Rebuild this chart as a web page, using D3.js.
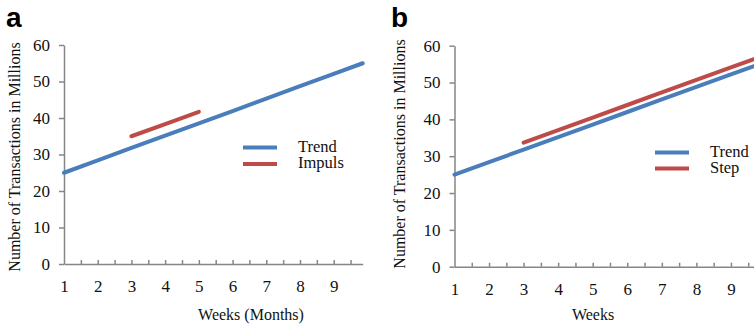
<!DOCTYPE html>
<html>
<head>
	<meta charset="utf-8">
	<style type="text/css">
		body{
			margin: 0;
			background-color: white;
		}
		.axis path, .axis line{
			stroke: #868686;
			stroke-width: 1.5px;
		}
	</style>
</head>
<body>
	<svg id="container" width="754" height="329"></svg>
</body>
<script src="https://cdn.jsdelivr.net/npm/d3@7"></script>
<script type="text/javascript">
	// data
	let yTicks = [0, 10, 20, 30, 40, 50, 60]
	let xLabels = [1, 2, 3, 4, 5, 6, 7, 8, 9]
	let xMinor = [1.5, 2, 2.5, 3, 3.5, 4, 4.5, 5, 5.5, 6, 6.5, 7, 7.5, 8, 8.5, 9, 9.5]

	let trendWeeksA = [1, 2, 3, 4, 5, 6, 7, 8, 9, 9.86]
	let trendA = [25, 28.4, 31.8, 35.2, 38.5, 41.9, 45.3, 48.7, 52.1, 55]
	let impulsWeeks = [3, 4, 5]
	let impuls = [35, 38.3, 41.7]

	let trendWeeksB = [1, 2, 3, 4, 5, 6, 7, 8, 9, 10]
	let trendB = [25, 28.4, 31.8, 35.2, 38.6, 42.0, 45.4, 48.8, 52.2, 55.6]
	let stepWeeks = [3, 4, 5, 6, 7, 8, 9, 10]
	let step = [33.7, 37.1, 40.5, 43.9, 47.3, 50.7, 54.1, 57.5]

	let blue = "#4a7ebb"
	let red = "#be4b48"
	let serif = "'Liberation Serif', 'Times New Roman', serif"

	let container = d3.select("#container")

	function panel(opt){
		let g = container.append("g")
		let x = d3.scaleLinear().domain(opt.xDomain).range(opt.xRange)
		let y = d3.scaleLinear().domain([0, 60]).range(opt.yRange)

		// minor ticks pointing up
		g.append("g").attr("class", "axis")
			.attr("transform", "translate(0," + opt.yRange[0] + ")")
			.call(d3.axisBottom(x).tickValues(xMinor).tickSize(-4).tickSizeOuter(0).tickFormat(""))

		g.append("g").attr("class", "axis")
			.attr("transform", "translate(0," + opt.yRange[0] + ")")
			.call(d3.axisBottom(x).tickValues(xLabels).tickSize(0).tickPadding(16))
			.call(a => a.select(".domain").remove())

		g.append("g").attr("class", "axis")
			.attr("transform", "translate(" + opt.xRange[0] + ",0)")
			.call(d3.axisLeft(y).tickValues(yTicks).tickSize(5).tickSizeOuter(0).tickPadding(9))

		g.selectAll(".axis text")
			.style("font-family", serif)
			.style("font-size", "17px")
			.style("fill", "#111")

		let line = d3.line().x(d => x(d[0])).y(d => y(d[1]))

		opt.series.forEach(s => {
			g.append("path")
				.datum(d3.zip(s.weeks, s.values))
				.attr("d", line)
				.attr("fill", "none")
				.attr("stroke", s.color)
				.attr("stroke-width", 4)
				.attr("stroke-linecap", "round")
		})

		// legend
		opt.series.forEach((s, i) => {
			let ly = opt.legend.y + i * opt.legend.gap
			g.append("line")
				.attr("x1", opt.legend.x).attr("x2", opt.legend.x + 34)
				.attr("y1", ly).attr("y2", ly)
				.attr("stroke", s.color).attr("stroke-width", 4)
			g.append("text").text(s.name)
				.attr("x", opt.legend.x + 55).attr("y", ly + 4)
				.style("font-family", serif).style("font-size", "16.5px").style("fill", "#111")
		})

		g.append("text").text(opt.letter)
			.attr("x", opt.letterX).attr("y", 27)
			.style("font-family", "'Liberation Sans', Arial, sans-serif")
			.style("font-weight", "bold").style("font-size", "28px")

		g.append("text").text("Number of Transactions in Millions")
			.attr("text-anchor", "middle")
			.style("font-family", serif).style("font-size", "16px").style("fill", "#111")
			.attr("transform", "translate(" + opt.yTitle[0] + "," + opt.yTitle[1] + ") rotate(-90)")

		g.append("text").text(opt.xTitle)
			.attr("text-anchor", "middle")
			.style("font-family", serif).style("font-size", "16px").style("fill", "#111")
			.attr("x", opt.xTitleX).attr("y", 320)
	}

	panel({
		xDomain: [1, 9.86], xRange: [64, 362.7], yRange: [264, 45],
		series: [
			{name: "Trend", weeks: trendWeeksA, values: trendA, color: blue},
			{name: "Impuls", weeks: impulsWeeks, values: impuls, color: red}
		],
		legend: {x: 243, y: 147.5, gap: 16.5},
		letter: "a", letterX: 6,
		yTitle: [19.5, 157],
		xTitle: "Weeks (Months)", xTitleX: 251
	})

	panel({
		xDomain: [1, 10], xRange: [454.5, 765.5], yRange: [266.7, 45.7],
		series: [
			{name: "Trend", weeks: trendWeeksB, values: trendB, color: blue},
			{name: "Step", weeks: stepWeeks, values: step, color: red}
		],
		legend: {x: 655, y: 152.5, gap: 16},
		letter: "b", letterX: 391,
		yTitle: [404.5, 154],
		xTitle: "Weeks", xTitleX: 593
	})
</script>
</html>
